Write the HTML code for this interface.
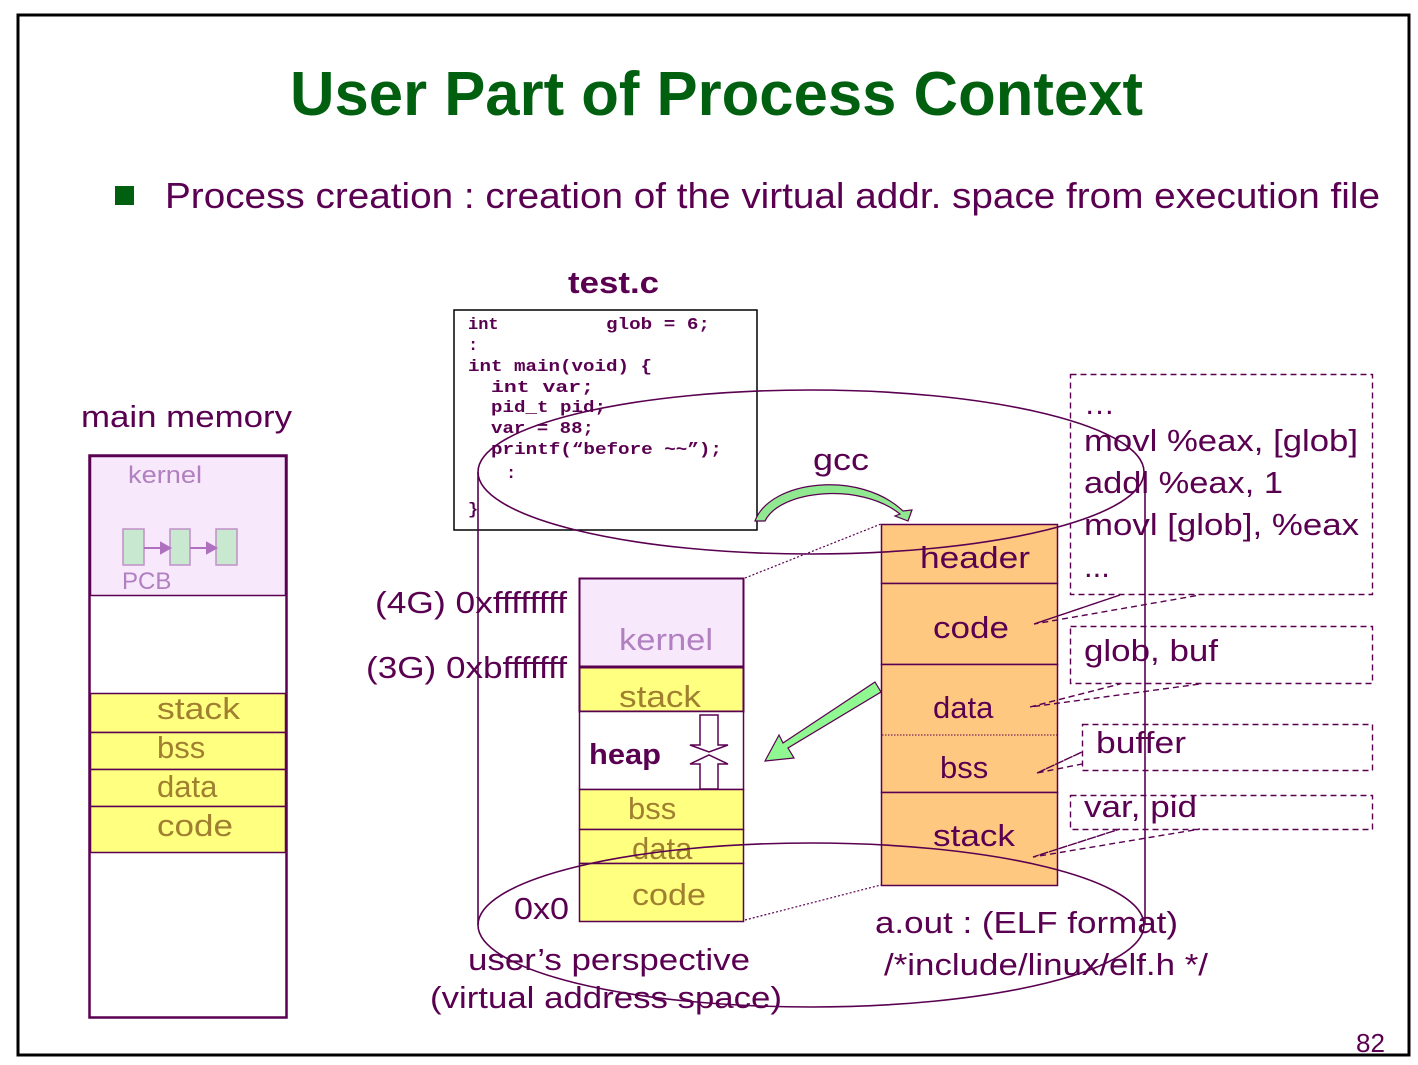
<!DOCTYPE html>
<html><head><meta charset="utf-8"><style>
html,body{margin:0;padding:0;background:#fff;}
svg{display:block;}
text{font-family:"Liberation Sans",sans-serif;fill:#5a0050;}
.m{font-family:"Liberation Mono",monospace;font-weight:bold;font-size:17px;}
</style></head><body>
<svg width="1418" height="1065" viewBox="0 0 1418 1065" xmlns="http://www.w3.org/2000/svg">
<rect x="18" y="15" width="1391" height="1040" fill="#fff" stroke="#000" stroke-width="3"/>
<text x="290" y="115" font-size="62" font-weight="bold" style="fill:#006010" textLength="853" lengthAdjust="spacingAndGlyphs">User Part of Process Context</text>
<rect x="115" y="186" width="19" height="19" fill="#006010"/>
<text x="165" y="208" font-size="36" textLength="1215" lengthAdjust="spacingAndGlyphs">Process creation : creation of the virtual addr. space from execution file</text>

<!-- main memory -->
<text x="81" y="427" font-size="31" textLength="211" lengthAdjust="spacingAndGlyphs">main memory</text>
<rect x="89.5" y="455.5" width="197" height="562" fill="#fff" stroke="#5a0050" stroke-width="2.5"/>
<rect x="90.5" y="456.5" width="195" height="139" fill="#f8e8fc" stroke="#5a0050" stroke-width="1.5"/>
<text x="128" y="483" font-size="24" style="fill:#b080c0" textLength="74" lengthAdjust="spacingAndGlyphs">kernel</text>
<g fill="#c8e8d0" stroke="#c090c8" stroke-width="1.5">
<rect x="123" y="529" width="21" height="36"/><rect x="170" y="529" width="20" height="36"/><rect x="216" y="529" width="21" height="36"/>
</g>
<g stroke="#b070c0" stroke-width="2" fill="#b070c0">
<line x1="144" y1="548" x2="162" y2="548"/><polygon points="170,548 161,543 161,553"/>
<line x1="190" y1="548" x2="208" y2="548"/><polygon points="216,548 207,543 207,553"/>
</g>
<text x="122" y="589" font-size="24" style="fill:#b080c0">PCB</text>
<g fill="#ffff80" stroke="#5a0050" stroke-width="1.5">
<rect x="90.5" y="693.5" width="195" height="39"/><rect x="90.5" y="732.5" width="195" height="37"/>
<rect x="90.5" y="769.5" width="195" height="37"/><rect x="90.5" y="806.5" width="195" height="46"/>
</g>
<g font-size="31">
<text x="157" y="719" style="fill:#a08030" textLength="83" lengthAdjust="spacingAndGlyphs">stack</text><text x="157" y="758" style="fill:#a08030">bss</text>
<text x="157" y="797" style="fill:#a08030">data</text><text x="157" y="836" style="fill:#a08030" textLength="76" lengthAdjust="spacingAndGlyphs">code</text>
</g>

<!-- test.c -->
<text x="568" y="293" font-size="31" font-weight="bold" textLength="91" lengthAdjust="spacingAndGlyphs">test.c</text>
<rect x="454" y="310" width="303" height="220" fill="#fff" stroke="#000" stroke-width="1.5"/>
<text x="468" y="329" class="m">int</text><text x="606" y="329" class="m" textLength="104" lengthAdjust="spacingAndGlyphs">glob = 6;</text>
<text x="468" y="350" class="m">:</text>
<text x="468" y="371" class="m" textLength="184" lengthAdjust="spacingAndGlyphs">int main(void) {</text>
<text x="491" y="392" class="m" textLength="103" lengthAdjust="spacingAndGlyphs">int  var;</text>
<text x="491" y="412" class="m" textLength="115" lengthAdjust="spacingAndGlyphs">pid_t pid;</text>
<text x="491" y="433" class="m" textLength="103" lengthAdjust="spacingAndGlyphs">var = 88;</text>
<text x="491" y="454" class="m" textLength="231" lengthAdjust="spacingAndGlyphs">printf(“before ~~”);</text>
<text x="506" y="478" class="m">:</text>
<text x="468" y="514" class="m">}</text>

<!-- gcc -->
<text x="813" y="470" font-size="31" textLength="56" lengthAdjust="spacingAndGlyphs">gcc</text>
<path d="M755,521 C770,480 860,470 903,511 L912,510 L908,521 L895,516 L900,514 C860,482 780,490 765,521 Z" fill="#90e890" stroke="#5a0050" stroke-width="1.2"/>

<!-- virtual space -->
<text x="375" y="613" font-size="31" textLength="192" lengthAdjust="spacingAndGlyphs">(4G) 0xffffffff</text>
<text x="366" y="678" font-size="31" textLength="201" lengthAdjust="spacingAndGlyphs">(3G) 0xbfffffff</text>
<text x="514" y="919" font-size="31" textLength="55" lengthAdjust="spacingAndGlyphs">0x0</text>
<rect x="579.5" y="578.5" width="164" height="88" fill="#f8e8fc" stroke="#5a0050" stroke-width="2"/>
<text x="619" y="650" font-size="31" style="fill:#b080c0" textLength="94" lengthAdjust="spacingAndGlyphs">kernel</text>
<rect x="579.5" y="667.5" width="164" height="44" fill="#ffff80" stroke="#5a0050" stroke-width="2"/>
<text x="619" y="707" font-size="31" style="fill:#a08030" textLength="82" lengthAdjust="spacingAndGlyphs">stack</text>
<rect x="579.5" y="711.5" width="164" height="78" fill="#fff" stroke="#5a0050" stroke-width="1.5"/>
<text x="589" y="764" font-size="29" font-weight="bold" textLength="72" lengthAdjust="spacingAndGlyphs">heap</text>
<polygon points="700,715 718,715 718,745 728,745 709,752 690,745 700,745" fill="#fff" stroke="#5a0050" stroke-width="1.5"/>
<polygon points="700,789 718,789 718,764 728,764 709,755 690,764 700,764" fill="#fff" stroke="#5a0050" stroke-width="1.5"/>
<g fill="#ffff80" stroke="#5a0050" stroke-width="1.5">
<rect x="579.5" y="789.5" width="164" height="40"/><rect x="579.5" y="829.5" width="164" height="34"/><rect x="579.5" y="863.5" width="164" height="58"/>
</g>
<text x="628" y="819" font-size="31" style="fill:#a08030">bss</text>
<text x="632" y="859" font-size="31" style="fill:#a08030">data</text>
<text x="632" y="905" font-size="31" style="fill:#a08030" textLength="74" lengthAdjust="spacingAndGlyphs">code</text>
<text x="468" y="970" font-size="31" textLength="282" lengthAdjust="spacingAndGlyphs">user’s perspective</text>
<text x="430" y="1008" font-size="31" textLength="352" lengthAdjust="spacingAndGlyphs">(virtual address space)</text>

<!-- dotted connectors -->
<g stroke="#5a0050" stroke-width="1.2" stroke-dasharray="2,2" fill="none">
<line x1="745" y1="578" x2="881" y2="524"/>
<line x1="745" y1="920" x2="881" y2="885"/>
</g>

<!-- green arrow -->
<polygon points="875,682 881,692 788,748 794,758 765,761 779,735 783,743" fill="#90f890" stroke="#5a0050" stroke-width="1.2"/>

<!-- ELF -->
<g fill="#ffc880" stroke="#5a0050" stroke-width="1.5">
<rect x="881.5" y="524.5" width="176" height="59"/><rect x="881.5" y="583.5" width="176" height="81"/>
<rect x="881.5" y="664.5" width="176" height="128"/><rect x="881.5" y="792.5" width="176" height="93"/>
</g>
<line x1="882" y1="735" x2="1057" y2="735" stroke="#5a0050" stroke-width="1" stroke-dasharray="1.5,1.5"/>
<g font-size="31">
<text x="920" y="568" textLength="110" lengthAdjust="spacingAndGlyphs">header</text><text x="933" y="638" textLength="76" lengthAdjust="spacingAndGlyphs">code</text><text x="933" y="718">data</text>
<text x="940" y="778">bss</text><text x="933" y="846" textLength="82" lengthAdjust="spacingAndGlyphs">stack</text>
</g>
<text x="875" y="933" font-size="31" textLength="303" lengthAdjust="spacingAndGlyphs">a.out : (ELF format)</text>
<text x="884" y="975" font-size="31" textLength="324" lengthAdjust="spacingAndGlyphs">/*include/linux/elf.h */</text>

<!-- cylinder (drawn over) -->
<g fill="none" stroke="#5a0050" stroke-width="1.6">
<ellipse cx="811" cy="472" rx="333" ry="82"/>
<ellipse cx="811" cy="925" rx="333" ry="82"/>
<line x1="478" y1="472" x2="478" y2="925"/>
<line x1="1145" y1="472" x2="1145" y2="925"/>
</g>

<!-- dashed boxes -->
<g fill="none" stroke="#5a0050" stroke-width="1.4" stroke-dasharray="6,4">
<rect x="1070.5" y="374.5" width="302" height="220"/>
<rect x="1070.5" y="626.5" width="302" height="57"/>
<rect x="1082.5" y="724.5" width="290" height="46"/>
<rect x="1070.5" y="795.5" width="302" height="34"/>
<polyline points="1034,624 1120,595 1034,624 1200,595"/>
<polyline points="1030,707 1120,684 1030,707 1200,684"/>
<polyline points="1037,773 1082,752 1037,773 1082,764"/>
<polyline points="1033,857 1120,829 1033,857 1200,829"/>
</g>
<g font-size="31">
<text x="1084" y="414">…</text>
<text x="1084" y="451" textLength="274" lengthAdjust="spacingAndGlyphs">movl %eax, [glob]</text>
<text x="1084" y="493" textLength="199" lengthAdjust="spacingAndGlyphs">addl %eax, 1</text>
<text x="1084" y="535" textLength="275" lengthAdjust="spacingAndGlyphs">movl [glob], %eax</text>
<text x="1084" y="577">...</text>
<text x="1084" y="661" textLength="134" lengthAdjust="spacingAndGlyphs">glob, buf</text>
<text x="1096" y="753" textLength="90" lengthAdjust="spacingAndGlyphs">buffer</text>
<text x="1084" y="817" textLength="113" lengthAdjust="spacingAndGlyphs">var, pid</text>
</g>
<text x="1356" y="1052" font-size="26">82</text>
</svg>
</body></html>
